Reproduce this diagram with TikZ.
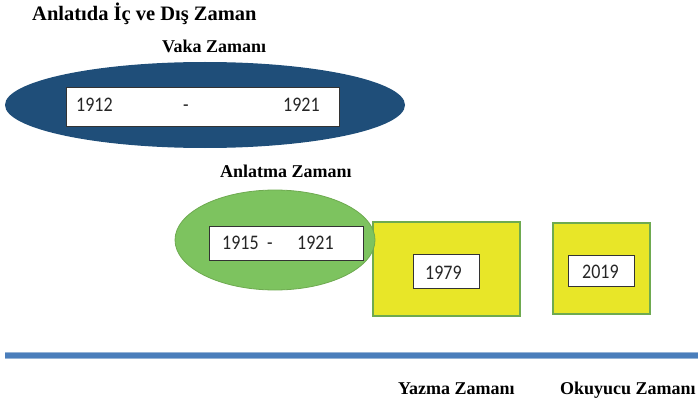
\documentclass[tikz,border=0pt]{standalone}
\usepackage{fontspec}
\usepackage{graphicx}
\setmainfont{Liberation Serif}
\newfontfamily\numfont{Carlito}
\usetikzlibrary{shapes.geometric}
\definecolor{darkblue}{RGB}{31,78,121}
\definecolor{lightgreen}{RGB}{125,195,95}
\definecolor{greenline}{RGB}{110,170,80}
\definecolor{ylw}{RGB}{232,230,40}
\definecolor{lineblue}{RGB}{74,126,187}
\definecolor{lineborder}{RGB}{150,180,215}
\newcommand{\tallnum}[1]{\scalebox{1}[1.15]{#1}}
\begin{document}
\begin{tikzpicture}[x=1pt,y=-1pt,
  title/.style={font=\fontsize{20.5}{24}\selectfont\bfseries, anchor=base west, inner sep=0},
  label/.style={font=\fontsize{18}{21}\selectfont\bfseries, anchor=base west, inner sep=0},
  numbox/.style={draw=black!80, fill=white, line width=0.8pt},
  num/.style={font=\numfont\fontsize{18}{21}\selectfont, text=black!85, inner sep=0, anchor=base west},
  ybox/.style={draw=greenline, fill=ylw, line width=1.1pt}]
\useasboundingbox (0,0) rectangle (698,401);
% title
\node[title] (t) at (32,21) {Anlatıda İç ve Dış Zaman};
\node[label] (vz) at (162,53) {Vaka Zamanı};
% blue ellipse
\node[ellipse, fill=darkblue, minimum width=400pt, minimum height=86pt, inner sep=0] (be) at (205,105) {};
\node[numbox, minimum width=273pt, minimum height=39pt, inner sep=0] (b1) at (202.5,106.5) {};
\node[num] (y1) at (76,112) {\tallnum{1912}};
\node[num] (d1) at (183,112) {\tallnum{-}};
\node[num] (y2) at (283,112) {\tallnum{1921}};
% anlatma
\node[label] (az) at (220,177) {Anlatma Zamanı};
\draw[ybox] (373,222) rectangle (520,316);
\node[ellipse, fill=lightgreen, draw=greenline, line width=0.8pt, minimum width=200pt, minimum height=100pt, inner sep=0] (ge) at (275,240) {};
\node[numbox, minimum width=154pt, minimum height=34pt, inner sep=0] (b2) at (286,243) {};
\node[num] (y3) at (222,249) {\tallnum{1915}};
\node[num] (d2) at (267,249) {\tallnum{-}};
\node[num] (y3b) at (297,249) {\tallnum{1921}};
% yazma
\node[numbox, minimum width=66pt, minimum height=34pt, inner sep=0] (b3) at (446,271) {};
\node[num] (y4) at (425,279) {\tallnum{1979}};
% okuyucu
\draw[ybox] (553,223) rectangle (650,314);
\node[numbox, minimum width=66pt, minimum height=31pt, inner sep=0] (b4) at (601,270.5) {};
\node[num] (y5) at (582,278) {\tallnum{2019}};
% timeline
\coordinate (l1) at (5,355);
\coordinate (l2) at (698,355);
\draw[lineborder, line width=7pt] (l1) -- (l2);
\draw[lineblue, line width=5pt] (l1) -- (l2);
\node[label] (yz) at (398,394) {Yazma Zamanı};
\node[label] (oz) at (560,394) {Okuyucu Zamanı};
\end{tikzpicture}
\end{document}
